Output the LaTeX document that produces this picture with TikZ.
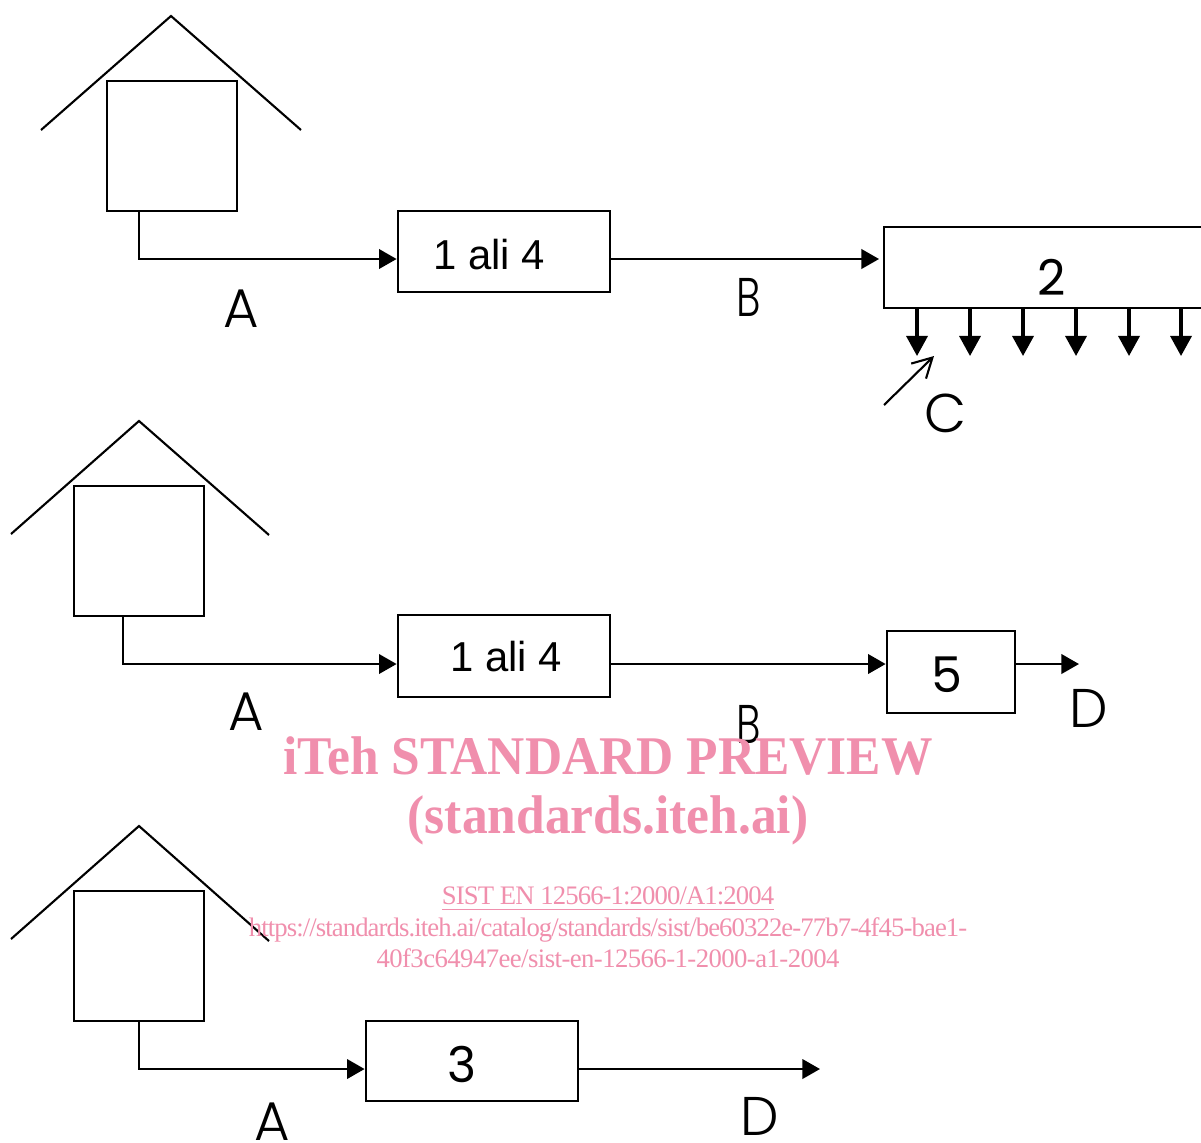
\documentclass[tikz,border=0pt]{standalone}
\usepackage{fontspec}
\setmainfont{Liberation Sans}
\newfontfamily\glyphfont[UprightFont={* Light}]{Poppins}
\newfontfamily\digitfont{Poppins}
\newfontfamily\markfont[FakeStretch=0.945]{Liberation Serif}
\newfontfamily\tightfont[LetterSpace=-3.4]{Liberation Serif}
\newfontfamily\looserfont[LetterSpace=-2.1]{Liberation Serif}
\usetikzlibrary{arrows.meta}
\definecolor{markpink}{HTML}{F08FAD}
\tikzset{
    housebox/.style={draw, line width=0.75pt, minimum width=1.3cm, minimum height=1.3cm, inner sep=0pt},
    procbox/.style={draw, line width=0.75pt, inner sep=0pt},
    roofline/.style={line width=0.6pt},
    flow/.style={line width=0.75pt, -{Triangle[length=5pt,width=5.5pt]}},
    drop/.style={line width=0.9pt, -{Triangle[length=5.7pt,width=6pt]}},
    letter/.style={inner sep=0pt, font=\glyphfont\fontsize{15.5}{18}\selectfont},
    narrowletter/.style={letter, xscale=0.75},
    numeral/.style={inner sep=0pt, font=\digitfont\fontsize{14}{18}\selectfont},
    boxtext/.style={inner sep=0pt, font=\fontsize{11.9}{15}\selectfont},
    bigmark/.style={inner sep=0pt, anchor=base, text=markpink, font=\markfont\bfseries\fontsize{15.5}{18}\selectfont},
    smallmark/.style={inner sep=0pt, anchor=base, text=markpink, font=\tightfont\fontsize{7.6}{9}\selectfont},
}
\begin{document}
\begin{tikzpicture}[x=0.01cm, y=-0.01cm]
    \useasboundingbox (0,0) rectangle (1201,1142);
    \clip (0,0) rectangle (1201,1142);

    % Houses: name / square centre / roof apex, left end, right end
    \foreach \n/\cx/\cy/\ax/\ay/\lx/\ly/\rx/\ry in {
        A/172/146/171/16/41/130/301/130,
        C/139/551/139/421/11/534/269/535,
        E/139/956/139/826/11/939/269/941} {
        \node[housebox] (sq\n) at (\cx,\cy) {};
        \draw[roofline] (\lx,\ly) -- (\ax,\ay) -- (\rx,\ry);
    }

    % Boxes
    \node[procbox, minimum width=2.12cm, minimum height=0.81cm] (boxA) at (504,251.5) {};
    \node[boxtext] (txtA) at (489,255) {1 ali 4};
    \node[procbox, minimum width=4.4cm, minimum height=0.81cm] (boxB) at (1104,267.5) {};
    \node[procbox, minimum width=2.12cm, minimum height=0.82cm] (boxC) at (504,656) {};
    \node[boxtext] (txtC) at (506,657) {1 ali 4};
    \node[procbox, minimum width=1.28cm, minimum height=0.82cm] (boxD) at (951,672) {};
    \node[procbox, minimum width=2.12cm, minimum height=0.80cm] (boxE) at (472,1061) {};

    % Free ends and heights of the connectors
    \coordinate (rowA) at (0,259);
    \coordinate (rowC) at (0,664);
    \coordinate (rowE) at (0,1069);
    \coordinate (leadA) at (139,0);
    \coordinate (leadC) at (123,0);
    \coordinate (leadE) at (139,0);
    \coordinate (endD) at (1079,664);
    \coordinate (endE) at (820,1069);

    % First row
    \draw[flow] (sqA.south -| leadA) |- (boxA.west |- rowA);
    \draw[flow, shorten >=1pt] (boxA.east |- rowA) -- (boxB.west |- rowA);
    \foreach \x in {917,970,1023,1076,1129,1181} {
        \coordinate (tip\x) at (\x,356);
        \draw[drop] (boxB.south -| tip\x) -- (tip\x);
    }
    \coordinate (startC) at (884,405);
    \coordinate (endC) at (934,356);
    \draw[line width=0.6pt, -{Straight Barb[length=5.5pt,width=6pt]}] (startC) -- (endC);

    % Second row
    \draw[flow] (sqC.south -| leadC) |- (boxC.west |- rowC);
    \draw[flow] (boxC.east |- rowC) -- (boxD.west |- rowC);
    \draw[flow] (boxD.east |- rowC) -- (endD);

    % Third row
    \draw[flow] (sqE.south -| leadE) |- (boxE.west |- rowE);
    \draw[flow] (boxE.east |- rowE) -- (endE);

    % Letters and numbers
    \node[letter] (labA1) at (241,309) {A};
    \node[narrowletter] (labB1) at (749,297) {B};
    \node[letter] (labC) at (945,413) {C};
    \node[numeral] (num2) at (1052,277) {2};
    \node[letter] (labA2) at (246,712) {A};
    \node[narrowletter] (labB2) at (749,724) {B};
    \node[letter] (labD1) at (1089,708) {D};
    \node[numeral] (num5) at (947,675) {5};
    \node[letter] (labA3) at (272,1122) {A};
    \node[letter] (labD2) at (760,1116) {D};
    \node[numeral] (num3) at (462,1064) {3};

    % Watermark
    \node[bigmark] (markA) at (608,774) {iTeh STANDARD PREVIEW};
    \node[bigmark] (markB) at (608,833) {(standards.iteh.ai)};
    \node[smallmark] (markC) at (608,904) {\underline{SIST EN 12566-1:2000/A1:2004}};
    \node[smallmark] (markD) at (608,936) {https://standards.iteh.ai/catalog/standards/sist/be60322e-77b7-4f45-bae1-};
    \node[smallmark, font=\looserfont\fontsize{7.6}{9}\selectfont] (markE) at (608,967) {40f3c64947ee/sist-en-12566-1-2000-a1-2004};
\end{tikzpicture}
\end{document}
